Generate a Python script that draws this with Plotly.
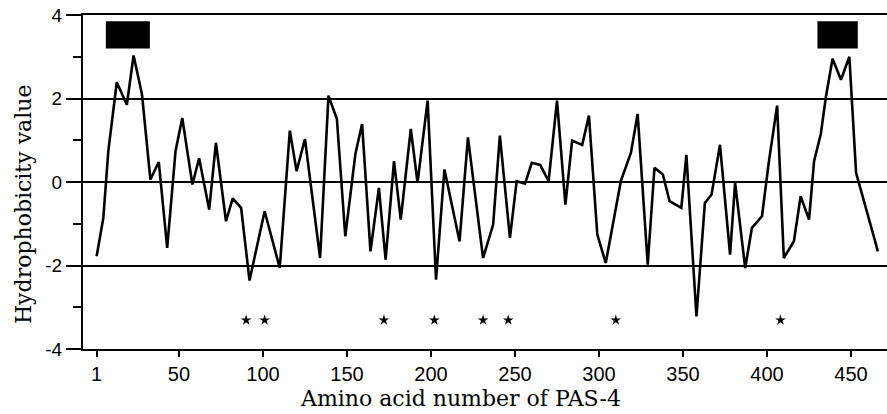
import plotly.graph_objects as go

# Hydrophobicity profile (vertices)
residue = [1, 5, 8, 13, 19, 23, 28, 33, 38, 43, 48, 52, 58, 62, 68, 72, 78, 82, 87, 92,
           101, 110, 116, 120, 125, 134, 139, 144, 149, 155, 159, 164, 169, 173, 178, 182, 188, 192, 198, 203,
           208, 217, 222, 231, 237, 241, 247, 251, 256, 260, 265, 270, 275, 280, 284, 290, 294, 299, 304, 313,
           319, 323, 329, 333, 338, 342, 349, 352, 358, 363, 367, 372, 378, 381, 387, 391, 397, 401, 406, 410,
           416, 420, 425, 428, 432, 435, 439, 444, 449, 453, 466]
hydro = [-1.78, -0.86, 0.75, 2.39, 1.85, 3.03, 2.1, 0.06, 0.48, -1.58, 0.75, 1.53, -0.06, 0.57, -0.66, 0.94, -0.94, -0.39, -0.62, -2.36,
         -0.70, -2.06, 1.23, 0.26, 1.03, -1.82, 2.07, 1.51, -1.30, 0.67, 1.39, -1.66, -0.14, -1.86, 0.50, -0.90, 1.27, -0.02, 1.95, -2.34,
         0.30, -1.42, 1.07, -1.82, -1.02, 1.11, -1.34, 0.02, -0.04, 0.46, 0.41, 0.02, 1.95, -0.54, 0.99, 0.89, 1.59, -1.26, -1.94, 0.02,
         0.70, 1.63, -1.98, 0.34, 0.18, -0.46, -0.62, 0.65, -3.22, -0.50, -0.30, 0.89, -1.74, -0.02, -2.06, -1.10, -0.82, 0.46, 1.83, -1.82,
         -1.42, -0.34, -0.90, 0.50, 1.15, 2.03, 2.95, 2.45, 3.0, 0.22, -1.66]

# Asterisk-marked sites
site_residue = [90, 101, 172, 202, 231, 246, 310, 408]
site_level = [-3.31] * len(site_residue)

# Black boxes (hydrophobic segments)
box_start = [6.5, 430]
box_end = [32.7, 454]
box_low = 3.2
box_high = 3.85

x_ticks = [1, 50, 100, 150, 200, 250, 300, 350, 400, 450]
y_ticks = [-4, -2, 0, 2, 4]

fig = go.Figure()
fig.add_trace(go.Scatter(x=residue, y=hydro, mode="lines",
                         line=dict(color="black", width=2.6), showlegend=False,
                         hoverinfo="skip"))
fig.add_trace(go.Scatter(x=site_residue, y=site_level, mode="markers",
                         marker=dict(symbol="star", size=8, color="black"),
                         showlegend=False, hoverinfo="skip"))

for s, e in zip(box_start, box_end):
    fig.add_shape(type="rect", x0=s, x1=e, y0=box_low, y1=box_high,
                  xref="x", yref="y", fillcolor="black", line=dict(width=0))

fig.update_layout(
    width=887, height=414,
    margin=dict(l=83, r=0, t=15, b=65),
    plot_bgcolor="white", paper_bgcolor="white",
    xaxis=dict(range=[-7.1, 471.4], tickvals=x_ticks, ticktext=[str(v) for v in x_ticks],
               showgrid=False, zeroline=False, showline=True, linecolor="black",
               linewidth=2, mirror=True, ticks="outside", ticklen=6, tickwidth=1.5,
               tickcolor="black",
               tickfont=dict(family="Liberation Sans, Arial", size=20, color="black")),
    yaxis=dict(range=[-4, 4], tickvals=y_ticks, ticktext=[str(v) for v in y_ticks],
               showgrid=True, gridcolor="black", gridwidth=1.8, zeroline=False,
               showline=True, linecolor="black", linewidth=2, ticks="outside",
               ticklen=15, tickwidth=1.5, tickcolor="black",
               minor=dict(tickvals=[-3, -1, 1, 3], ticks="outside", ticklen=8,
                          tickwidth=1.5, tickcolor="black", showgrid=False),
               tickfont=dict(family="Liberation Sans, Arial", size=19, color="black")),
    annotations=[
        dict(text="Amino acid number of PAS-4", xref="paper", yref="paper",
             x=0.469, y=-0.149, xanchor="center", yanchor="middle", showarrow=False,
             font=dict(family="DejaVu Serif", size=22, color="black")),
        dict(text="Hydrophobicity value", xref="paper", yref="paper",
             x=-0.0746, y=0.431, xanchor="center", yanchor="middle", showarrow=False,
             textangle=-90,
             font=dict(family="DejaVu Serif", size=22, color="black")),
    ],
)

fig.write_html("out.html", config={"displayModeBar": False},
               post_script="document.body.style.margin='0';document.body.style.overflow='hidden';")
